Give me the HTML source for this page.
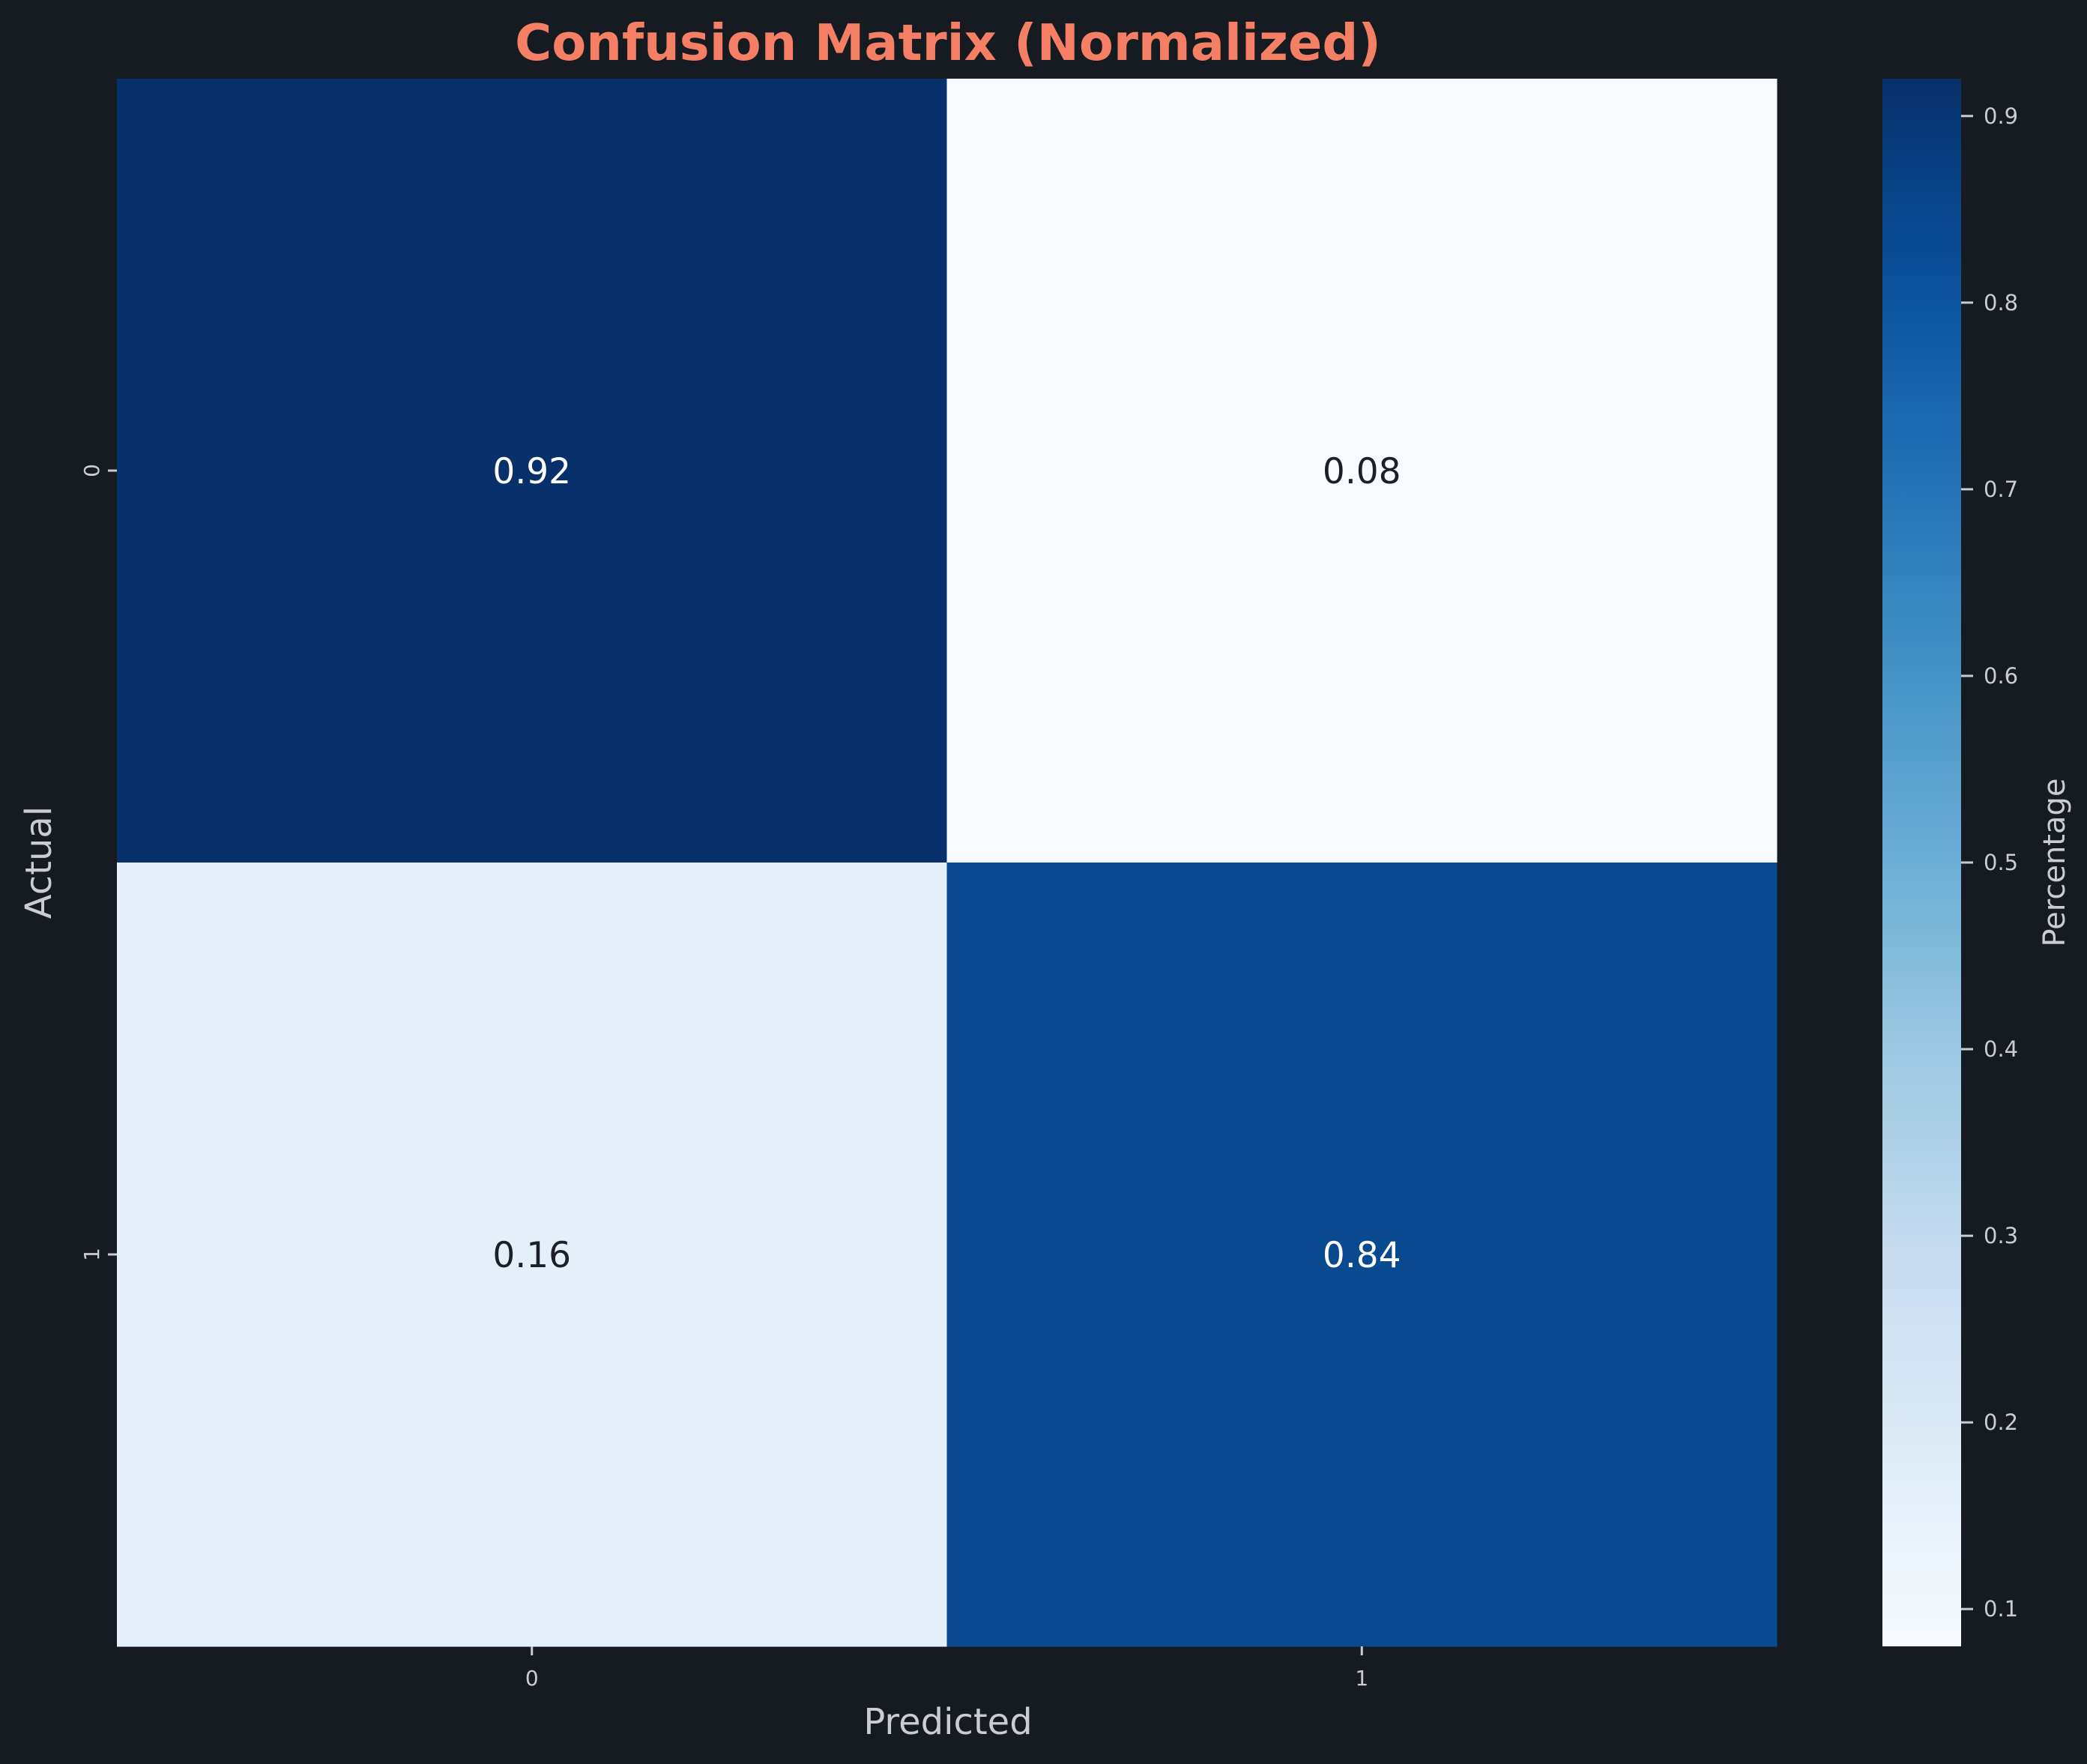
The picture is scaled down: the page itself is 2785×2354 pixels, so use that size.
<!DOCTYPE html>
<html><head><meta charset="utf-8"><style>
html,body{margin:0;padding:0;background:#161a21;}
svg{display:block;font-family:"DejaVu Sans","Liberation Sans",sans-serif;}
</style></head><body>
<svg id="chart" width="2785" height="2354" viewBox="0 0 2785 2354" xmlns="http://www.w3.org/2000/svg">
<rect width="2785" height="2354" fill="#161a21"/>
<text x="1265" y="80" text-anchor="middle" font-size="67" font-weight="bold" fill="#f47f64">Confusion Matrix (Normalized)</text>
<g id="cells"></g>
<g id="colorbar"></g>
<text x="1265" y="2314" text-anchor="middle" font-size="48" fill="#c9cdd3">Predicted</text>
<text transform="translate(68,1151) rotate(-90)" text-anchor="middle" font-size="48" fill="#c9cdd3">Actual</text>
<text transform="translate(2755,1151) rotate(-90)" text-anchor="middle" font-size="40" fill="#c9cdd3">Percentage</text>
</svg>
<script>
const rowLabels = ["0","1"];
const colLabels = ["0","1"];
const values = [[0.92,0.08],[0.16,0.84]];
const cbTicks = [0.1,0.2,0.3,0.4,0.5,0.6,0.7,0.8,0.9];

const NS="http://www.w3.org/2000/svg";
const L=156,R=2371,T=105,B=2197;
const blues=["#f7fbff","#deebf7","#c6dbef","#9ecae1","#6baed6","#4292c6","#2171b5","#08519c","#08306b"];
function hex(h){return [1,3,5].map(i=>parseInt(h.substr(i,2),16));}
function cmap(t){t=Math.max(0,Math.min(1,t));const p=t*(blues.length-1);const i=Math.min(blues.length-2,Math.floor(p));const f=p-i;const a=hex(blues[i]),b=hex(blues[i+1]);return "rgb("+a.map((v,k)=>Math.round(v+(b[k]-v)*f)).join(",")+")";}
const flat=values.flat();const vmin=Math.min(...flat),vmax=Math.max(...flat);
const norm=v=>(v-vmin)/(vmax-vmin);
const cw=(R-L)/colLabels.length,ch=(B-T)/rowLabels.length;
const xS=j=>L+j*cw,yS=i=>T+i*ch;
function mk(tag,attrs,parent){const e=document.createElementNS(NS,tag);for(const k in attrs)e.setAttribute(k,attrs[k]);parent.appendChild(e);return e;}
const cells=document.getElementById('cells');
values.forEach((row,i)=>row.forEach((v,j)=>{
  const r=mk('rect',{x:xS(j),y:yS(i),width:cw+0.5,height:ch+0.5,fill:cmap(norm(v))},cells);
  
  
  const t=mk('text',{x:xS(j)+cw/2,y:yS(i)+ch/2+17,'text-anchor':'middle','font-size':'47',fill:norm(v)>0.5?'#ffffff':'#1c1f26'},cells);
  t.textContent=v.toFixed(2);
  
  
}));
colLabels.forEach((c,j)=>{
  const x=xS(j)+cw/2;
  const tk=mk('line',{x1:x,y1:B,x2:x,y2:B+12,stroke:'#c9cdd3','stroke-width':3},cells);
  
  
  const t=mk('text',{x:x,y:B+52,'text-anchor':'middle','font-size':'28',fill:'#c9cdd3'},cells);
  t.textContent=c;
  
  
});
rowLabels.forEach((c,i)=>{
  const y=yS(i)+ch/2;
  const tk=mk('line',{x1:L-12,y1:y,x2:L,y2:y,stroke:'#c9cdd3','stroke-width':3},cells);
  
  
  const t=mk('text',{transform:'translate('+(L-24)+','+y+') rotate(-90)','text-anchor':'middle','font-size':'28',fill:'#c9cdd3'},cells);
  t.textContent=c;
  
  
});
const cb=document.getElementById('colorbar');
const CL=2512,CR=2617;
const defs=mk('defs',{},cb);
const g=mk('linearGradient',{id:'cbg',x1:0,y1:1,x2:0,y2:0},defs);
for(let k=0;k<=20;k++){mk('stop',{offset:(k/20),'stop-color':cmap(k/20)},g);}
const cbr=mk('rect',{x:CL,y:T,width:CR-CL,height:B-T,fill:'url(#cbg)'},cb);


const cy=v=>B-(v-vmin)/(vmax-vmin)*(B-T);
cbTicks.forEach(v=>{
  const y=cy(v);
  const tk=mk('line',{x1:CR,y1:y,x2:CR+16,y2:y,stroke:'#c9cdd3','stroke-width':3},cb);
  
  
  const t=mk('text',{x:CR+30,y:y+10,'font-size':'29',fill:'#c9cdd3'},cb);
  t.textContent=v.toFixed(1);
  
  
});
</script>
</body></html>
